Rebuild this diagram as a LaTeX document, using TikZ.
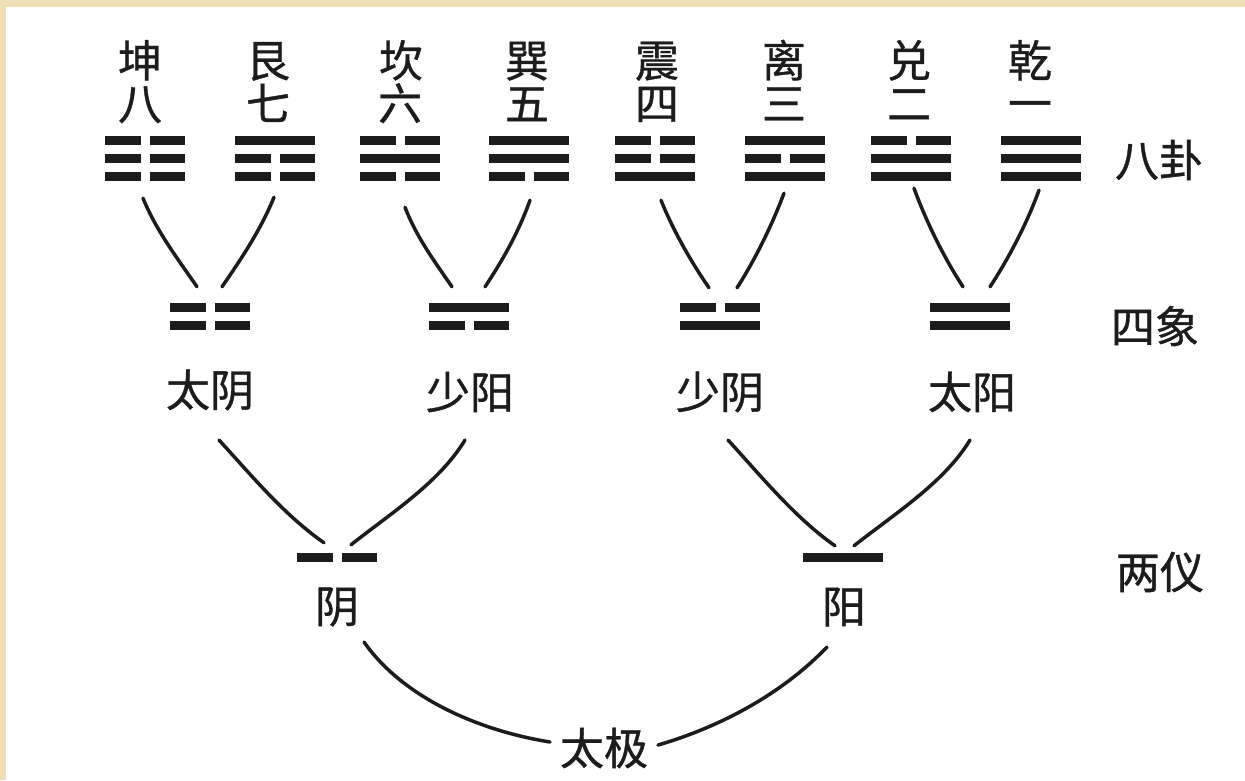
\documentclass[tikz,border=0pt]{standalone}
\usepackage{fontspec}
\newfontfamily\cjk[FakeBold=0.8]{Noto Sans CJK SC}
\usetikzlibrary{calc}
\definecolor{beige}{RGB}{239,222,182}
\definecolor{ink}{RGB}{28,28,28}
\newcommand{\yangbar}[2]{\draw[yao] ($(#1)+(-40,#2)$) -- ($(#1)+(40,#2)$);}
\newcommand{\yinbar}[2]{\draw[yao] ($(#1)+(-40,#2)$) -- ($(#1)+(-4.5,#2)$); \draw[yao] ($(#1)+(4.5,#2)$) -- ($(#1)+(40,#2)$);}
\newcommand{\mkbar}[3]{\ifnum#3=1 \yangbar{#1}{#2}\else\yinbar{#1}{#2}\fi}
\newcommand{\mktrig}[5]{\node[guabox] (#1) at (#2,158) {};
  \mkbar{#1}{-18}{#3}\mkbar{#1}{0}{#4}\mkbar{#1}{18}{#5}}
\newcommand{\mkbigram}[4]{\node[xiangbox] (#1) at (#2,316) {};
  \mkbar{#1}{-9}{#3}\mkbar{#1}{9}{#4}}
\begin{document}
\begin{tikzpicture}[x=1pt,y=-1pt,
  lbl/.style={font=\cjk\fontsize{44}{50}\selectfont, inner sep=0pt, text=ink},
  guabox/.style={minimum width=80pt, minimum height=46pt, inner sep=0pt},
  xiangbox/.style={minimum width=80pt, minimum height=28pt, inner sep=0pt},
  yibox/.style={minimum width=80pt, minimum height=10pt, inner sep=0pt},
  yao/.style={line width=9pt, ink},
  conn/.style={line width=3.5pt, ink, line cap=round}]
\fill[beige] (0,0) rectangle (1245,780);
\fill[white] (6,7) rectangle (1245,780);
\useasboundingbox (0,0) rectangle (1245,780);

% names and numbers
\node[lbl,anchor=base] (kunN) at (140,77) {坤};
\node[lbl,anchor=base] (genN) at (268,77) {艮};
\node[lbl,anchor=base] (kanN) at (401,77) {坎};
\node[lbl,anchor=base] (xunN) at (527,77) {巽};
\node[lbl,anchor=base] (zhenN) at (657,77) {震};
\node[lbl,anchor=base] (liN) at (784,77) {离};
\node[lbl,anchor=base] (duiN) at (909,77) {兑};
\node[lbl,anchor=base] (qianN) at (1030,77) {乾};
\node[lbl,anchor=base] (kunS) at (140,120) {八};
\node[lbl,anchor=base] (genS) at (268,120) {七};
\node[lbl,anchor=base] (kanS) at (400,120) {六};
\node[lbl,anchor=base] (xunS) at (527,120) {五};
\node[lbl,anchor=base] (zhenS) at (657,120) {四};
\node[lbl,anchor=base] (liS) at (784,120) {三};
\node[lbl,anchor=base] (duiS) at (909,120) {二};
\node[lbl,anchor=base] (qianS) at (1030,120) {一};

% trigrams (top, middle, bottom)
\mktrig{kun}{145}{0}{0}{0}
\mktrig{gen}{275}{1}{0}{0}
\mktrig{kan}{400}{0}{1}{0}
\mktrig{xun}{529}{1}{1}{0}
\mktrig{zhen}{655}{0}{0}{1}
\mktrig{li}{785}{1}{0}{1}
\mktrig{dui}{911}{0}{1}{1}
\mktrig{qian}{1041}{1}{1}{1}

% bigrams
\mkbigram{taiyin}{210}{0}{0}
\mkbigram{shaoyang}{469}{1}{0}
\mkbigram{shaoyin}{720}{0}{1}
\mkbigram{taiyang}{970}{1}{1}

% two modes
\node[yibox] (yinbar) at (337,557) {};
\yinbar{yinbar}{0}
\node[yibox] (yangbar) at (843,557) {};
\yangbar{yangbar}{0}

% labels
\node[lbl] (bagua) at (1159,160) {八卦};
\node[lbl] (sixiang) at (1155,326) {四象};
\node[lbl] (liangyi) at (1160,572) {两仪};
\node[lbl] (taiyinL) at (210,390) {太阴};
\node[lbl] (shaoyangL) at (470,392) {少阳};
\node[lbl] (shaoyinL) at (720,392) {少阴};
\node[lbl] (taiyangL) at (972,392) {太阳};
\node[lbl] (yinL) at (337,607) {阴};
\node[lbl] (yangL) at (844,607) {阳};
\node[lbl] (taiji) at (604,748) {太极};

% level 1 connectors
\draw[conn] ($(kun.south)+(-2,17)$) .. controls +(13,32) and +(-20,-29) .. ($(taiyin.north)+(-13,-15)$);
\draw[conn] ($(gen.south)+(-1,16)$) .. controls +(-13,32) and +(20,-29) .. ($(taiyin.north)+(12,-15)$);
\draw[conn] ($(kan.south)+(5,26)$) .. controls +(11,29) and +(-18,-26) .. ($(shaoyang.north)+(-17,-15)$);
\draw[conn] ($(xun.south)+(1,19)$) .. controls +(-11,31) and +(18,-27) .. ($(shaoyang.north)+(16,-15)$);
\draw[conn] ($(zhen.south)+(6,19)$) .. controls +(12,30) and +(-18,-26) .. ($(shaoyin.north)+(-11,-14)$);
\draw[conn] ($(li.south)+(-1,12)$) .. controls +(-12,32) and +(18,-28) .. ($(shaoyin.north)+(17,-14)$);
\draw[conn] ($(dui.south)+(3,7)$) .. controls +(12,33) and +(-19,-29) .. ($(taiyang.north)+(-7,-15)$);
\draw[conn] ($(qian.south)+(-2,9)$) .. controls +(-12,33) and +(19,-29) .. ($(taiyang.north)+(20,-15)$);

% level 2 connectors
\draw[conn] ($(taiyinL)+(9,50)$) .. controls +(33,36) and +(-40,-28) .. ($(yinbar.north)+(-13,-9)$);
\draw[conn] ($(shaoyangL)+(-5,48)$) .. controls +(-26,43) and +(39,-31) .. ($(yinbar.north)+(14,-7)$);
\draw[conn] ($(shaoyinL)+(8,48)$) .. controls +(33,36) and +(-40,-28) .. ($(yangbar.north)+(-8,-6)$);
\draw[conn] ($(taiyangL)+(-2,48)$) .. controls +(-26,43) and +(39,-31) .. ($(yangbar.north)+(11,-6)$);

% level 3 connectors
\draw[conn] ($(yinL)+(27,35)$) .. controls +(40,57) and +(-69,-11) .. ($(taiji)+(-54,-6)$);
\draw[conn] ($(yangL)+(-17,40)$) .. controls +(-45,47) and +(62,-18) .. ($(taiji)+(54,-3)$);
\end{tikzpicture}
\end{document}
